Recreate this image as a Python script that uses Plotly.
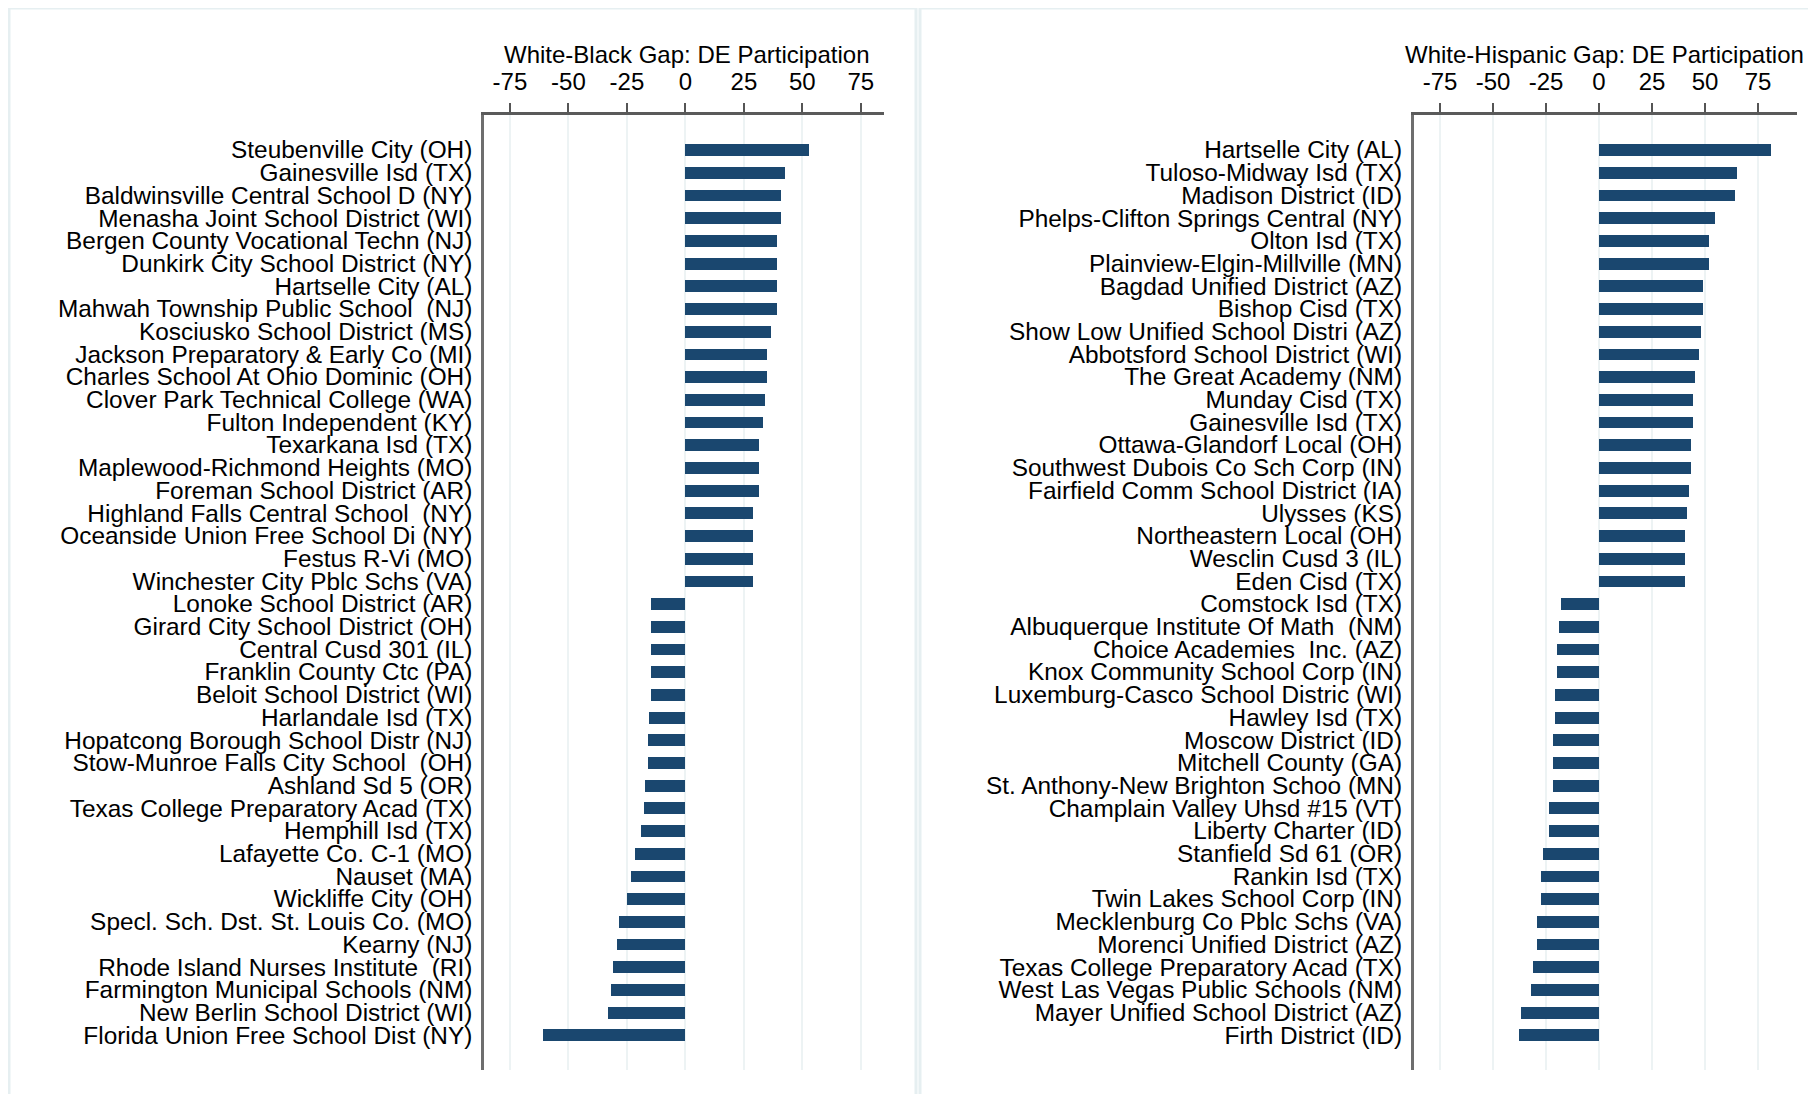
import plotly.graph_objects as go

NB = "\u00a0"

left_names = [
    "Steubenville City (OH)", "Gainesville Isd (TX)", "Baldwinsville Central School D (NY)",
    "Menasha Joint School District (WI)", "Bergen County Vocational Techn (NJ)",
    "Dunkirk City School District (NY)", "Hartselle City (AL)",
    "Mahwah Township Public School" + NB + " (NJ)", "Kosciusko School District (MS)",
    "Jackson Preparatory & Early Co (MI)", "Charles School At Ohio Dominic (OH)",
    "Clover Park Technical College (WA)", "Fulton Independent (KY)", "Texarkana Isd (TX)",
    "Maplewood-Richmond Heights (MO)", "Foreman School District (AR)",
    "Highland Falls Central School" + NB + " (NY)", "Oceanside Union Free School Di (NY)",
    "Festus R-Vi (MO)", "Winchester City Pblc Schs (VA)",
    "Lonoke School District (AR)", "Girard City School District (OH)", "Central Cusd 301 (IL)",
    "Franklin County Ctc (PA)", "Beloit School District (WI)", "Harlandale Isd (TX)",
    "Hopatcong Borough School Distr (NJ)", "Stow-Munroe Falls City School" + NB + " (OH)",
    "Ashland Sd 5 (OR)", "Texas College Preparatory Acad (TX)", "Hemphill Isd (TX)",
    "Lafayette Co. C-1 (MO)", "Nauset (MA)", "Wickliffe City (OH)",
    "Specl. Sch. Dst. St. Louis Co. (MO)", "Kearny (NJ)",
    "Rhode Island Nurses Institute" + NB + " (RI)", "Farmington Municipal Schools (NM)",
    "New Berlin School District (WI)", "Florida Union Free School Dist (NY)",
]
left_vals = [
    52.8, 42.6, 40.9, 40.9, 39.2, 39.2, 39.2, 39.2, 36.6, 34.9,
    34.9, 34.0, 33.2, 31.5, 31.5, 31.5, 28.9, 28.9, 28.9, 28.9,
    -14.5, -14.5, -14.5, -14.5, -14.5, -15.4, -16.2, -16.2, -17.1, -17.9,
    -18.8, -21.4, -23.1, -24.8, -28.2, -29.1, -30.8, -31.6, -33.3, -60.7,
]

right_names = [
    "Hartselle City (AL)", "Tuloso-Midway Isd (TX)", "Madison District (ID)",
    "Phelps-Clifton Springs Central (NY)", "Olton Isd (TX)", "Plainview-Elgin-Millville (MN)",
    "Bagdad Unified District (AZ)", "Bishop Cisd (TX)", "Show Low Unified School Distri (AZ)",
    "Abbotsford School District (WI)", "The Great Academy (NM)", "Munday Cisd (TX)",
    "Gainesville Isd (TX)", "Ottawa-Glandorf Local (OH)", "Southwest Dubois Co Sch Corp (IN)",
    "Fairfield Comm School District (IA)", "Ulysses (KS)", "Northeastern Local (OH)",
    "Wesclin Cusd 3 (IL)", "Eden Cisd (TX)",
    "Comstock Isd (TX)", "Albuquerque Institute Of Math" + NB + " (NM)",
    "Choice Academies" + NB + " Inc. (AZ)", "Knox Community School Corp (IN)",
    "Luxemburg-Casco School Distric (WI)", "Hawley Isd (TX)", "Moscow District (ID)",
    "Mitchell County (GA)", "St. Anthony-New Brighton Schoo (MN)",
    "Champlain Valley Uhsd #15 (VT)", "Liberty Charter (ID)", "Stanfield Sd 61 (OR)",
    "Rankin Isd (TX)", "Twin Lakes School Corp (IN)", "Mecklenburg Co Pblc Schs (VA)",
    "Morenci Unified District (AZ)", "Texas College Preparatory Acad (TX)",
    "West Las Vegas Public Schools (NM)", "Mayer Unified School District (AZ)",
    "Firth District (ID)",
]
right_vals = [
    81.0, 64.9, 64.0, 54.6, 51.7, 51.7, 48.9, 48.9, 48.0, 47.0,
    45.1, 44.2, 44.2, 43.2, 43.2, 42.3, 41.4, 40.4, 40.4, 40.4,
    -17.9, -18.9, -19.8, -19.8, -20.8, -20.8, -21.7, -21.7, -21.7, -23.6,
    -23.6, -26.4, -27.4, -27.4, -29.2, -29.2, -31.1, -32.1, -36.8, -37.7,
]

tick_vals = [-75, -50, -25, 0, 25, 50, 75]
tick_text = ["-75", "-50", "-25", "0", "25", "50", "75"]
left_title = "White-Black Gap: DE Participation"
right_title = "White-Hispanic Gap: DE Participation"

# page body has an 8px margin; figure sized to fill the rest of the window
OFF = 8
W, H = 1816 - OFF, 1094 - OFF
BAR = "#1a476f"
FONT = "Liberation Sans, Arial, sans-serif"
FS = 24.4


def px(x):
    return (x - OFF) / W


def py(y):
    return 1 - (y - OFF) / H


fig = go.Figure()
fig.add_trace(go.Bar(x=left_vals, y=left_names, orientation="h", width=0.52,
                     marker=dict(color=BAR, line=dict(width=0)),
                     xaxis="x", yaxis="y", showlegend=False))
fig.add_trace(go.Bar(x=right_vals, y=right_names, orientation="h", width=0.52,
                     marker=dict(color=BAR, line=dict(width=0)),
                     xaxis="x2", yaxis="y2", showlegend=False))

ydom = [py(1070), py(114.7)]
yrange = [40.54, -1.55]


def xax(dom, rng, anchor):
    return dict(domain=dom, range=rng, side="top", anchor=anchor,
                tickmode="array", tickvals=tick_vals, ticktext=tick_text,
                ticks="outside", ticklen=9, tickwidth=2, ticklabelstandoff=3,
                tickcolor="#555555", showline=True, linecolor="#5a5a5a", linewidth=2.5,
                showgrid=True, gridcolor="#edf3f4", gridwidth=2, zeroline=False,
                tickfont=dict(size=24, color="#000000", family=FONT),
                fixedrange=True)


def yax(dom, anchor):
    return dict(domain=dom, range=yrange, type="category", anchor=anchor,
                tickmode="linear", tick0=0, dtick=1,
                showline=True, linecolor="#6e6e6e", linewidth=2.5, showgrid=False,
                ticks="", ticklabelstandoff=4, zeroline=False,
                tickfont=dict(size=FS, color="#000000", family=FONT), fixedrange=True)


fig.update_layout(
    width=W, height=H,
    margin=dict(l=0, r=0, t=0, b=0),
    paper_bgcolor="white", plot_bgcolor="white",
    font=dict(family=FONT, size=24, color="#000000"),
    bargap=0,
    xaxis=xax([px(484), px(884)], [-86.1, 84.9], "y"),
    yaxis=yax(ydom, "x"),
    xaxis2=xax([px(1413.7), px(1797)], [-87.4, 93.4], "y2"),
    yaxis2=yax(ydom, "x2"),
    annotations=[
        dict(text=left_title, xref="paper", yref="paper", x=px(686), y=py(54),
             xanchor="center", yanchor="middle", showarrow=False,
             font=dict(size=24, color="#000000", family=FONT)),
        dict(text=right_title, xref="paper", yref="paper", x=px(1604), y=py(54),
             xanchor="center", yanchor="middle", showarrow=False,
             font=dict(size=24, color="#000000", family=FONT)),
    ],
    shapes=[
        dict(type="rect", xref="paper", yref="paper",
             x0=px(9), x1=px(916), y0=-0.05, y1=py(8),
             line=dict(color="#e6eff1", width=3), layer="below"),
        dict(type="rect", xref="paper", yref="paper",
             x0=px(920), x1=1.05, y0=-0.05, y1=py(8),
             line=dict(color="#e6eff1", width=3), layer="below"),
    ],
)

fig.write_html("out.html")
